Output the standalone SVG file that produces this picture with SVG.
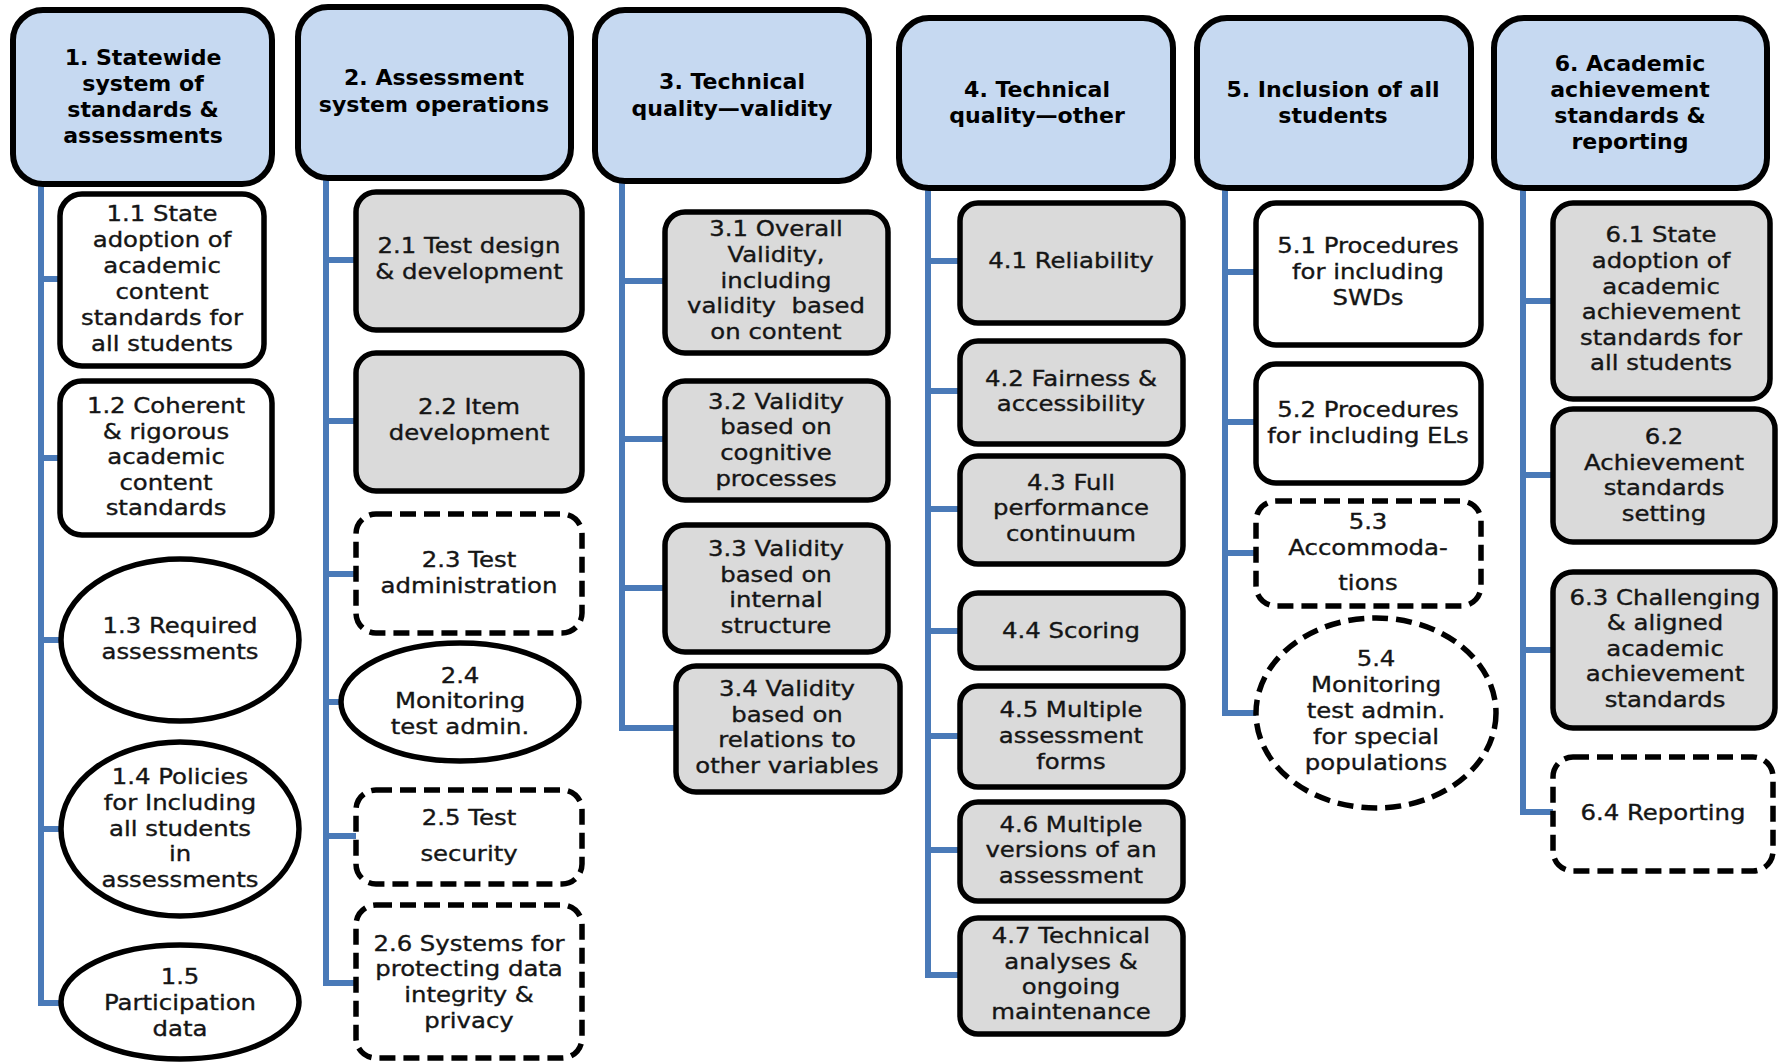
<svg xmlns="http://www.w3.org/2000/svg" width="1779" height="1062" viewBox="0 0 1779 1062">
<style>
.hd{fill:#c6d9f1;stroke:#000;stroke-width:6}
.g{fill:#dadada;stroke:#000;stroke-width:5.5}
.w{fill:#fff;stroke:#000;stroke-width:5.5}
.d{fill:#fff;stroke:#000;stroke-width:5.5;stroke-dasharray:16 8}
.c{fill:none;stroke:#4a7ab8;stroke-width:6}
.ht{font-family:"DejaVu Sans",sans-serif;font-weight:bold;font-size:21px;fill:#000;text-anchor:middle}
.t{font-family:"DejaVu Sans",sans-serif;font-size:21px;fill:#151515;stroke:#151515;stroke-width:0.35;text-anchor:middle}
</style>
<g id="connectors">
<path class="c" d="M41 184V1003H61M41 279H60M41 458H60M41 640H61M41 829H61"/>
<path class="c" d="M326 178V983H356M326 260H356M326 421H356M326 574H356M326 702H341M326 836H356"/>
<path class="c" d="M622 181V728H676M622 281H665M622 439H665M622 588H665"/>
<path class="c" d="M928 188V975H960M928 261H960M928 391H960M928 509H960M928 631H960M928 736H960M928 850H960"/>
<path class="c" d="M1225 188V713H1257M1225 272H1256M1225 422H1256M1225 553H1256"/>
<path class="c" d="M1523 188V812H1553M1523 301H1553M1523 475H1553M1523 650H1553"/>
</g>
<g id="n1"><rect class="hd" x="13" y="10" width="259" height="174" rx="30"/>
<text class="ht" transform="translate(143 0) scale(1.05 1)"><tspan x="0" y="65">1. Statewide</tspan><tspan x="0" y="91">system of</tspan><tspan x="0" y="117">standards &amp;</tspan><tspan x="0" y="143">assessments</tspan></text></g>
<g id="n2"><rect class="hd" x="298" y="7" width="273" height="171" rx="30"/>
<text class="ht" transform="translate(434 0) scale(1.05 1)"><tspan x="0" y="85">2. Assessment</tspan><tspan x="0" y="112">system operations</tspan></text></g>
<g id="n3"><rect class="hd" x="595" y="10" width="274" height="171" rx="30"/>
<text class="ht" transform="translate(732 0) scale(1.05 1)"><tspan x="0" y="89">3. Technical</tspan><tspan x="0" y="116">quality—validity</tspan></text></g>
<g id="n4"><rect class="hd" x="899" y="18" width="274" height="170" rx="30"/>
<text class="ht" transform="translate(1037 0) scale(1.05 1)"><tspan x="0" y="97">4. Technical</tspan><tspan x="0" y="123">quality—other</tspan></text></g>
<g id="n5"><rect class="hd" x="1197" y="18" width="274" height="170" rx="30"/>
<text class="ht" transform="translate(1333 0) scale(1.05 1)"><tspan x="0" y="97">5. Inclusion of all</tspan><tspan x="0" y="123">students</tspan></text></g>
<g id="n6"><rect class="hd" x="1494" y="18" width="273" height="170" rx="30"/>
<text class="ht" transform="translate(1630 0) scale(1.05 1)"><tspan x="0" y="71">6. Academic</tspan><tspan x="0" y="97">achievement</tspan><tspan x="0" y="123">standards &amp;</tspan><tspan x="0" y="149">reporting</tspan></text></g>

<g id="n1_1"><rect class="w" x="60" y="194" width="204" height="172" rx="22"/>
<text class="t" transform="translate(162 0) scale(1.16 1)"><tspan x="0" y="221">1.1 State</tspan><tspan x="0" y="247">adoption of</tspan><tspan x="0" y="273">academic</tspan><tspan x="0" y="299">content</tspan><tspan x="0" y="325">standards for</tspan><tspan x="0" y="351">all students</tspan></text></g>
<g id="n1_2"><rect class="w" x="60" y="381" width="212" height="154" rx="22"/>
<text class="t" transform="translate(166 0) scale(1.16 1)"><tspan x="0" y="413">1.2 Coherent</tspan><tspan x="0" y="439">&amp; rigorous</tspan><tspan x="0" y="464">academic</tspan><tspan x="0" y="490">content</tspan><tspan x="0" y="515">standards</tspan></text></g>
<g id="n1_3"><ellipse class="w" cx="180" cy="640" rx="119" ry="81"/>
<text class="t" transform="translate(180 0) scale(1.16 1)"><tspan x="0" y="633">1.3 Required</tspan><tspan x="0" y="659">assessments</tspan></text></g>
<g id="n1_4"><ellipse class="w" cx="180" cy="829" rx="119" ry="87"/>
<text class="t" transform="translate(180 0) scale(1.16 1)"><tspan x="0" y="784">1.4 Policies</tspan><tspan x="0" y="810">for Including</tspan><tspan x="0" y="836">all students</tspan><tspan x="0" y="861">in</tspan><tspan x="0" y="887">assessments</tspan></text></g>
<g id="n1_5"><ellipse class="w" cx="180" cy="1002" rx="119" ry="57"/>
<text class="t" transform="translate(180 0) scale(1.16 1)"><tspan x="0" y="984">1.5</tspan><tspan x="0" y="1010">Participation</tspan><tspan x="0" y="1036">data</tspan></text></g>

<g id="n2_1"><rect class="g" x="356" y="192" width="226" height="138" rx="20"/>
<text class="t" transform="translate(469 0) scale(1.16 1)"><tspan x="0" y="253">2.1 Test design</tspan><tspan x="0" y="279">&amp; development</tspan></text></g>
<g id="n2_2"><rect class="g" x="356" y="353" width="226" height="138" rx="20"/>
<text class="t" transform="translate(469 0) scale(1.16 1)"><tspan x="0" y="414">2.2 Item</tspan><tspan x="0" y="440">development</tspan></text></g>
<g id="n2_3"><rect class="d" x="356" y="514" width="226" height="119" rx="20"/>
<text class="t" transform="translate(469 0) scale(1.16 1)"><tspan x="0" y="567">2.3 Test</tspan><tspan x="0" y="593">administration</tspan></text></g>
<g id="n2_4"><ellipse class="w" cx="460" cy="702" rx="119" ry="59"/>
<text class="t" transform="translate(460 0) scale(1.16 1)"><tspan x="0" y="683">2.4</tspan><tspan x="0" y="708">Monitoring</tspan><tspan x="0" y="734">test admin.</tspan></text></g>
<g id="n2_5"><rect class="d" x="356" y="790" width="226" height="94" rx="20"/>
<text class="t" transform="translate(469 0) scale(1.16 1)"><tspan x="0" y="825">2.5 Test</tspan><tspan x="0" y="861">security</tspan></text></g>
<g id="n2_6"><rect class="d" x="356" y="905" width="226" height="153" rx="20"/>
<text class="t" transform="translate(469 0) scale(1.16 1)"><tspan x="0" y="951">2.6 Systems for</tspan><tspan x="0" y="976">protecting data</tspan><tspan x="0" y="1002">integrity &amp;</tspan><tspan x="0" y="1028">privacy</tspan></text></g>

<g id="n3_1"><rect class="g" x="665" y="212" width="223" height="141" rx="20"/>
<text class="t" transform="translate(776 0) scale(1.16 1)"><tspan x="0" y="236">3.1 Overall</tspan><tspan x="0" y="262">Validity,</tspan><tspan x="0" y="288">including</tspan><tspan x="0" y="313">validity&#160; based</tspan><tspan x="0" y="339">on content</tspan></text></g>
<g id="n3_2"><rect class="g" x="665" y="381" width="223" height="119" rx="20"/>
<text class="t" transform="translate(776 0) scale(1.16 1)"><tspan x="0" y="409">3.2 Validity</tspan><tspan x="0" y="434">based on</tspan><tspan x="0" y="460">cognitive</tspan><tspan x="0" y="486">processes</tspan></text></g>
<g id="n3_3"><rect class="g" x="665" y="525" width="223" height="127" rx="20"/>
<text class="t" transform="translate(776 0) scale(1.16 1)"><tspan x="0" y="556">3.3 Validity</tspan><tspan x="0" y="582">based on</tspan><tspan x="0" y="607">internal</tspan><tspan x="0" y="633">structure</tspan></text></g>
<g id="n3_4"><rect class="g" x="676" y="666" width="224" height="126" rx="20"/>
<text class="t" transform="translate(787 0) scale(1.16 1)"><tspan x="0" y="696">3.4 Validity</tspan><tspan x="0" y="722">based on</tspan><tspan x="0" y="747">relations to</tspan><tspan x="0" y="773">other variables</tspan></text></g>

<g id="n4_1"><rect class="g" x="960" y="203" width="223" height="120" rx="18"/>
<text class="t" transform="translate(1071 0) scale(1.16 1)"><tspan x="0" y="268">4.1 Reliability</tspan></text></g>
<g id="n4_2"><rect class="g" x="960" y="341" width="223" height="103" rx="18"/>
<text class="t" transform="translate(1071 0) scale(1.16 1)"><tspan x="0" y="386">4.2 Fairness &amp;</tspan><tspan x="0" y="411">accessibility</tspan></text></g>
<g id="n4_3"><rect class="g" x="960" y="456" width="223" height="108" rx="18"/>
<text class="t" transform="translate(1071 0) scale(1.16 1)"><tspan x="0" y="490">4.3 Full</tspan><tspan x="0" y="515">performance</tspan><tspan x="0" y="541">continuum</tspan></text></g>
<g id="n4_4"><rect class="g" x="960" y="593" width="223" height="75" rx="18"/>
<text class="t" transform="translate(1071 0) scale(1.16 1)"><tspan x="0" y="638">4.4 Scoring</tspan></text></g>
<g id="n4_5"><rect class="g" x="960" y="686" width="223" height="101" rx="18"/>
<text class="t" transform="translate(1071 0) scale(1.16 1)"><tspan x="0" y="717">4.5 Multiple</tspan><tspan x="0" y="743">assessment</tspan><tspan x="0" y="769">forms</tspan></text></g>
<g id="n4_6"><rect class="g" x="960" y="802" width="223" height="99" rx="18"/>
<text class="t" transform="translate(1071 0) scale(1.16 1)"><tspan x="0" y="832">4.6 Multiple</tspan><tspan x="0" y="857">versions of an</tspan><tspan x="0" y="883">assessment</tspan></text></g>
<g id="n4_7"><rect class="g" x="960" y="918" width="223" height="116" rx="18"/>
<text class="t" transform="translate(1071 0) scale(1.16 1)"><tspan x="0" y="943">4.7 Technical</tspan><tspan x="0" y="969">analyses &amp;</tspan><tspan x="0" y="994">ongoing</tspan><tspan x="0" y="1019">maintenance</tspan></text></g>

<g id="n5_1"><rect class="w" x="1256" y="203" width="225" height="142" rx="20"/>
<text class="t" transform="translate(1368 0) scale(1.16 1)"><tspan x="0" y="253">5.1 Procedures</tspan><tspan x="0" y="279">for including</tspan><tspan x="0" y="305">SWDs</tspan></text></g>
<g id="n5_2"><rect class="w" x="1256" y="364" width="225" height="119" rx="20"/>
<text class="t" transform="translate(1368 0) scale(1.16 1)"><tspan x="0" y="417">5.2 Procedures</tspan><tspan x="0" y="443">for including ELs</tspan></text></g>
<g id="n5_3"><rect class="d" x="1256" y="501" width="225" height="105" rx="20"/>
<text class="t" transform="translate(1368 0) scale(1.16 1)"><tspan x="0" y="529">5.3</tspan><tspan x="0" y="555">Accommoda-</tspan><tspan x="0" y="590">tions</tspan></text></g>
<g id="n5_4"><ellipse class="d" cx="1376" cy="713" rx="120" ry="95"/>
<text class="t" transform="translate(1376 0) scale(1.16 1)"><tspan x="0" y="666">5.4</tspan><tspan x="0" y="692">Monitoring</tspan><tspan x="0" y="718">test admin.</tspan><tspan x="0" y="744">for special</tspan><tspan x="0" y="770">populations</tspan></text></g>

<g id="n6_1"><rect class="g" x="1553" y="203" width="217" height="196" rx="20"/>
<text class="t" transform="translate(1661 0) scale(1.16 1)"><tspan x="0" y="242">6.1 State</tspan><tspan x="0" y="268">adoption of</tspan><tspan x="0" y="294">academic</tspan><tspan x="0" y="319">achievement</tspan><tspan x="0" y="345">standards for</tspan><tspan x="0" y="370">all students</tspan></text></g>
<g id="n6_2"><rect class="g" x="1553" y="409" width="222" height="133" rx="20"/>
<text class="t" transform="translate(1664 0) scale(1.16 1)"><tspan x="0" y="444">6.2</tspan><tspan x="0" y="470">Achievement</tspan><tspan x="0" y="495">standards</tspan><tspan x="0" y="521">setting</tspan></text></g>
<g id="n6_3"><rect class="g" x="1553" y="572" width="222" height="156" rx="20"/>
<text class="t" transform="translate(1665 0) scale(1.16 1)"><tspan x="0" y="605">6.3 Challenging</tspan><tspan x="0" y="630">&amp; aligned</tspan><tspan x="0" y="656">academic</tspan><tspan x="0" y="681">achievement</tspan><tspan x="0" y="707">standards</tspan></text></g>
<g id="n6_4"><rect class="d" x="1553" y="757" width="220" height="114" rx="20"/>
<text class="t" transform="translate(1663 0) scale(1.16 1)"><tspan x="0" y="820">6.4 Reporting</tspan></text></g>
</svg>
